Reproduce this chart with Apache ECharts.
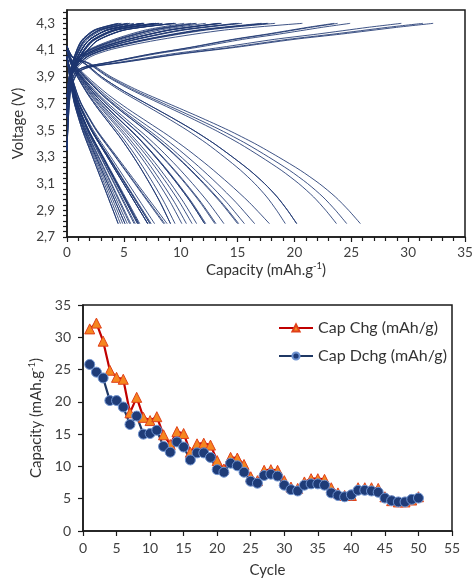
<!DOCTYPE html>
<html>
<head>
<meta charset="utf-8">
<script src="https://cdn.jsdelivr.net/npm/echarts@6/dist/echarts.min.js"></script>
<style>
  html, body { margin: 0; padding: 0; background: #fff; }
  #chart { width: 476px; height: 579px; }
</style>
</head>
<body>
<div id="chart"></div>
<script>
// Cycle numbers
const cycles = [1, 2, 3, 4, 5, 6, 7, 8, 9, 10, 11, 12, 13, 14, 15, 16, 17, 18, 19, 20,
  21, 22, 23, 24, 25, 26, 27, 28, 29, 30, 31, 32, 33, 34, 35, 36, 37, 38, 39, 40,
  41, 42, 43, 44, 45, 46, 47, 48, 49, 50];

// Charge capacity per cycle (mAh/g)
const chgCap = [31.3, 32.2, 29.4, 24.9, 23.8, 23.5, 18.3, 20.7, 17.6, 17.1,
  17.7, 14.9, 13.4, 15.4, 15.1, 12.2, 13.5, 13.6, 13.3, 10.9,
  9.6, 11.4, 11.3, 10.3, 8.4, 7.8, 9.4, 9.5, 9.4, 7.8,
  6.8, 6.6, 7.6, 8.1, 8.1, 8.0, 6.7, 5.9, 5.5, 5.5,
  6.7, 6.7, 6.7, 6.6, 5.3, 4.7, 4.5, 4.5, 4.8, 5.3];

// Discharge capacity per cycle (mAh/g)
const dchgCap = [25.8, 24.6, 23.7, 20.2, 20.2, 19.2, 16.5, 17.8, 15.0, 15.1,
  15.6, 13.1, 12.2, 13.8, 13.0, 11.0, 12.1, 12.1, 11.4, 9.5,
  9.1, 10.5, 10.1, 9.1, 7.7, 7.4, 8.6, 8.8, 8.5, 7.1,
  6.4, 6.2, 7.1, 7.3, 7.3, 7.1, 5.9, 5.5, 5.3, 5.6,
  6.3, 6.3, 6.2, 6.0, 5.1, 4.7, 4.5, 4.5, 4.9, 5.1];

// Voltage profiles, as [fraction of the cycle's capacity, voltage]
const chgProfileLong = [[0, 3.35], [0.01, 3.8], [0.03, 3.93], [0.06, 3.97], [0.16, 4.01],
  [0.31, 4.07], [0.46, 4.12], [0.62, 4.18], [0.75, 4.22], [0.9, 4.27], [1, 4.3]];
const chgProfileMid = [[0, 3.6], [0.01, 3.85], [0.033, 3.95], [0.1, 4.05], [0.2, 4.11],
  [0.4, 4.18], [0.67, 4.25], [1, 4.3]];
const chgProfileShort = [[0, 3.75], [0.03, 3.85], [0.064, 3.95], [0.15, 4.06], [0.28, 4.17],
  [0.53, 4.25], [1, 4.3]];

const dchgProfileLong = [[0, 4.13], [0.02, 4.05], [0.078, 4.0], [0.15, 3.9], [0.24, 3.8],
  [0.345, 3.7], [0.45, 3.6], [0.55, 3.5], [0.64, 3.4], [0.72, 3.3], [0.795, 3.2],
  [0.86, 3.1], [0.915, 3.0], [0.96, 2.9], [1, 2.8]];
const dchgProfileMid = [[0, 4.1], [0.035, 4.0], [0.1, 3.9], [0.2, 3.77], [0.3, 3.66],
  [0.4, 3.56], [0.5, 3.46], [0.6, 3.35], [0.7, 3.23], [0.8, 3.1], [0.9, 2.96], [1, 2.8]];
const dchgProfileShort = [[0, 4.05], [0.05, 3.9], [0.1, 3.78], [0.15, 3.69], [0.3, 3.5],
  [0.5, 3.3], [0.7, 3.1], [0.85, 2.95], [1, 2.8]];

// Axis tick labels
const voltLabels = [2.7, 2.9, 3.1, 3.3, 3.5, 3.7, 3.9, 4.1, 4.3];
const capTicksTop = [0, 5, 10, 15, 20, 25, 30, 35];
const capTicksBottom = [0, 5, 10, 15, 20, 25, 30, 35];
const cycleTicks = [0, 5, 10, 15, 20, 25, 30, 35, 40, 45, 50, 55];

const FONT = 'Lato';
const NAVY = '#1c3570';

function scaleProfile(profile, cap) {
  return profile.map(p => [p[0] * cap, p[1]]);
}
function pickChg(cap) {
  return cap >= 22 ? chgProfileLong : (cap >= 10 ? chgProfileMid : chgProfileShort);
}
function pickDchg(cap) {
  return cap >= 18 ? dchgProfileLong : (cap >= 9 ? dchgProfileMid : dchgProfileShort);
}

// minor tick positions on the voltage axis (every 0.04 V)
const voltMinor = [];
for (let k = 0; k <= 42; k++) voltMinor.push(+(2.7 + k * 0.04).toFixed(2));

const curveLine = { color: NAVY, width: 1, opacity: 0.85 };
const curveSeries = [];
cycles.forEach((c, i) => {
  curveSeries.push({
    type: 'line', xAxisIndex: 0, yAxisIndex: 0, showSymbol: false, silent: true,
    smooth: 0.25, lineStyle: curveLine,
    data: scaleProfile(pickChg(chgCap[i]), chgCap[i])
  });
  curveSeries.push({
    type: 'line', xAxisIndex: 0, yAxisIndex: 0, showSymbol: false, silent: true,
    smooth: 0.25, lineStyle: curveLine,
    data: scaleProfile(pickDchg(dchgCap[i]), dchgCap[i])
  });
});

const tickText = size => ({ fontFamily: FONT, fontSize: size, color: '#404040' });
const nameText = { fontFamily: FONT, fontSize: 15, color: '#333' };
const supRich = {
  t: { fontFamily: FONT, fontSize: 15, color: '#333' },
  s: { fontFamily: FONT, fontSize: 9.5, color: '#333', verticalAlign: 'top', padding: [0, 0, 8, 0] }
};
const axisLine = { show: true, onZero: false, lineStyle: { color: '#1a1a1a', width: 1.5 } };
const tickLine = { color: '#1a1a1a', width: 1.2 };

const chart = echarts.init(document.getElementById('chart'), null, { renderer: 'canvas' });
chart.setOption({
  animation: false,
  backgroundColor: '#fff',
  grid: [
    { left: 67, top: 10, width: 398, height: 227, show: true, borderColor: '#1a1a1a', borderWidth: 1.5, backgroundColor: 'transparent' },
    { left: 83, top: 305, width: 369, height: 228, show: true, borderColor: '#1a1a1a', borderWidth: 1.5, backgroundColor: 'transparent' }
  ],
  legend: {
    orient: 'vertical', left: 273, top: 315, itemWidth: 34, itemHeight: 9, itemGap: 12,
    textStyle: { fontFamily: FONT, fontSize: 16, color: '#333' },
    data: ['Cap Chg (mAh/g)', 'Cap Dchg (mAh/g)']
  },
  xAxis: [
    {
      type: 'value', gridIndex: 0, min: 0, max: 35, interval: 5,
      axisLine: axisLine,
      axisTick: { show: true, length: 5, lineStyle: tickLine },
      minorTick: { show: true, splitNumber: 5, length: 4, lineStyle: tickLine },
      splitLine: { show: false },
      axisLabel: Object.assign({ margin: 9, customValues: capTicksTop }, tickText(13.5)),
      name: '{t|Capacity (mAh.g}{s|-1}{t|)}', nameLocation: 'middle', nameGap: 24,
      nameTextStyle: { rich: supRich }
    },
    {
      type: 'value', gridIndex: 1, min: 0, max: 55, interval: 5,
      axisLine: axisLine,
      axisTick: { show: true, length: 5, lineStyle: tickLine },
      splitLine: { show: false },
      axisLabel: Object.assign({ margin: 10, customValues: cycleTicks }, tickText(14)),
      name: 'Cycle', nameLocation: 'middle', nameGap: 32,
      nameTextStyle: nameText
    }
  ],
  yAxis: [
    {
      type: 'value', gridIndex: 0, min: 2.7, max: 4.4,
      axisLine: axisLine,
      axisTick: { show: true, length: 4, customValues: voltMinor, lineStyle: tickLine },
      splitLine: { show: false },
      axisLabel: Object.assign({ margin: 12, customValues: voltLabels, formatter: v => v.toFixed(1).replace('.', ',') }, tickText(13.5)),
      name: 'Voltage (V)', nameLocation: 'middle', nameGap: 38, nameRotate: 90,
      nameTextStyle: nameText
    },
    {
      type: 'value', gridIndex: 1, min: 0, max: 35, interval: 5,
      axisLine: axisLine,
      axisTick: { show: true, length: 5, lineStyle: tickLine },
      splitLine: { show: false },
      axisLabel: Object.assign({ margin: 12, customValues: capTicksBottom }, tickText(14)),
      name: '{t|Capacity (mAh.g}{s|-1}{t|)}', nameLocation: 'middle', nameGap: 31, nameRotate: 90,
      nameTextStyle: { rich: supRich }
    }
  ],
  series: curveSeries.concat([
    {
      name: 'Cap Chg (mAh/g)', type: 'line', xAxisIndex: 1, yAxisIndex: 1,
      symbol: 'triangle', symbolSize: 10,
      lineStyle: { color: '#c00000', width: 2.2 },
      itemStyle: { color: '#f5861f', borderColor: '#e0401a', borderWidth: 1 },
      data: cycles.map((c, i) => [c, chgCap[i]])
    },
    {
      name: 'Cap Dchg (mAh/g)', type: 'line', xAxisIndex: 1, yAxisIndex: 1,
      symbol: 'circle', symbolSize: 10,
      lineStyle: { color: '#1f3864', width: 2.2 },
      itemStyle: { color: '#1f3c78', borderColor: '#6f93d0', borderWidth: 1 },
      data: cycles.map((c, i) => [c, dchgCap[i]])
    }
  ])
});
</script>
</body>
</html>
